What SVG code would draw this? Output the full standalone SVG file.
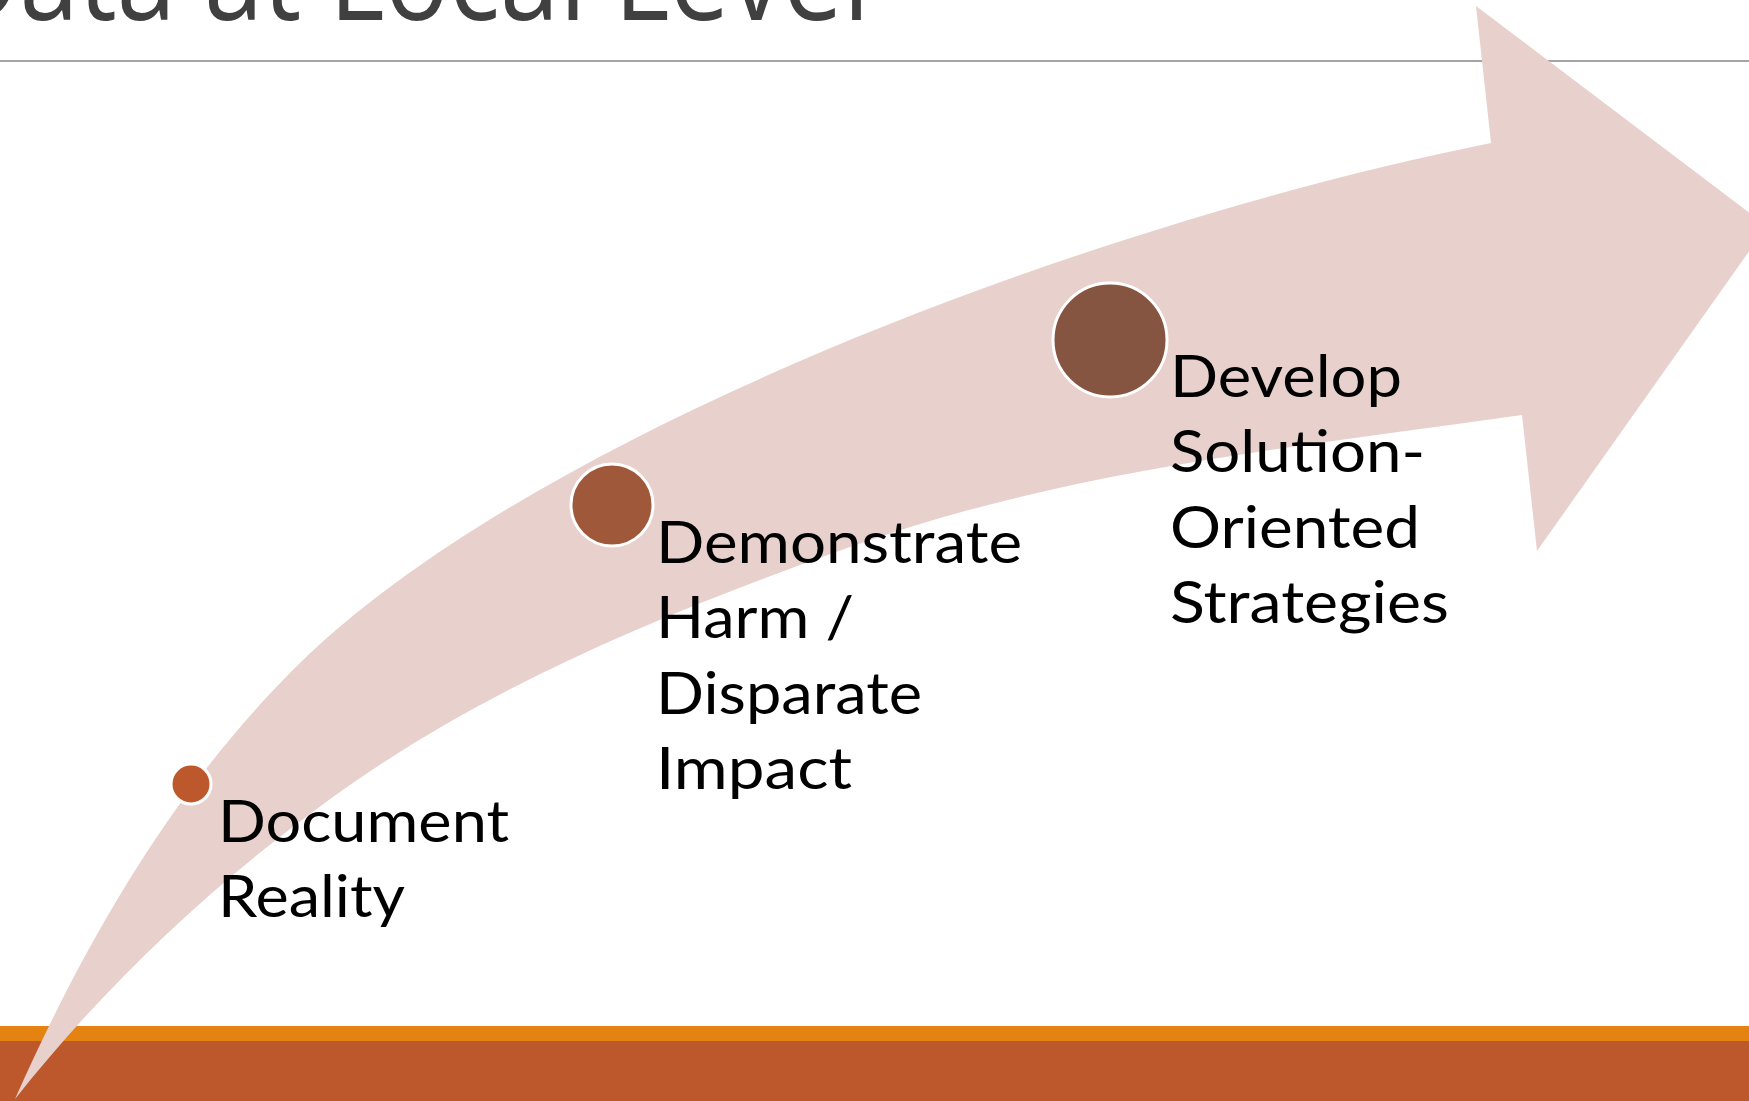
<svg xmlns="http://www.w3.org/2000/svg" width="1749" height="1101" viewBox="0 0 1749 1101">
  <style>
    .title { font-family: "Open Sans", "Liberation Sans", sans-serif; font-weight: 400; font-size: 120px; fill: #404040; }
    .lbl { font-family: Lato, "Open Sans", "Liberation Sans", sans-serif; font-size: 59px; fill: #000000; }
    .dot { stroke: #FFFFFF; stroke-width: 3; }
  </style>
  <rect x="0" y="0" width="1749" height="1101" fill="#FFFFFF"/>
  <g id="title">
    <text class="title" x="-58" y="20" textLength="928" lengthAdjust="spacingAndGlyphs">Data at Local Level</text>
    <rect x="0" y="60" width="1749" height="2" fill="#A5A5A5"/>
  </g>
  <g id="footer">
    <rect x="0" y="1026" width="1749" height="15" fill="#E48312"/>
    <rect x="0" y="1041" width="1749" height="60" fill="#BD582C"/>
  </g>
  <g id="arrow">
    <path fill="#E8D1CC" d="M15,1099 C85,941 176,784 300,663 C540,429 1101,221 1491,143 L1476,6 L1767,226 L1537,551 L1522,415 C1296,447 1065,470 850,547 C670,611 488,685 333,797 C215,882 106,984 15,1099 Z"/>
  </g>
  <g id="node-document">
    <circle class="dot" cx="191" cy="784" r="20" fill="#BD582C"/>
    <text class="lbl" x="218" y="842" textLength="291" lengthAdjust="spacingAndGlyphs">Document</text>
    <text class="lbl" x="218" y="917" textLength="187" lengthAdjust="spacingAndGlyphs">Reality</text>
  </g>
  <g id="node-demonstrate">
    <circle class="dot" cx="612" cy="505" r="41" fill="#A0583A"/>
    <text class="lbl" x="656" y="563" textLength="366" lengthAdjust="spacingAndGlyphs">Demonstrate</text>
    <text class="lbl" x="656" y="638" textLength="198" lengthAdjust="spacingAndGlyphs">Harm /</text>
    <text class="lbl" x="656" y="714" textLength="266" lengthAdjust="spacingAndGlyphs">Disparate</text>
    <text class="lbl" x="656" y="789" textLength="196" lengthAdjust="spacingAndGlyphs">Impact</text>
  </g>
  <g id="node-develop">
    <circle class="dot" cx="1110" cy="340" r="57" fill="#855541"/>
    <text class="lbl" x="1170" y="397" textLength="232" lengthAdjust="spacingAndGlyphs">Develop</text>
    <text class="lbl" x="1170" y="472" textLength="255" lengthAdjust="spacingAndGlyphs">Solution-</text>
    <text class="lbl" x="1170" y="548" textLength="250" lengthAdjust="spacingAndGlyphs">Oriented</text>
    <text class="lbl" x="1170" y="623" textLength="279" lengthAdjust="spacingAndGlyphs">Strategies</text>
  </g>
</svg>
